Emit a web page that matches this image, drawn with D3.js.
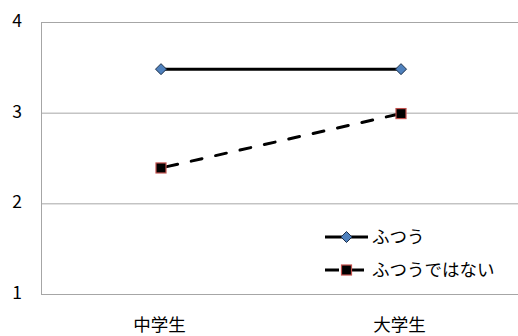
<!DOCTYPE html>
<html><head><meta charset="utf-8">
<script src="https://cdn.jsdelivr.net/npm/d3@7"></script>
<style>body{margin:0;background:#fff}svg{display:block}</style>
</head><body>
<script>
const categories = ["中学生", "大学生"];
const seriesNames = ["ふつう", "ふつうではない"];
const futsuu = [3.48, 3.48];
const futsuuDewanai = [2.39, 2.99];
const yTicks = [1, 2, 3, 4];

(function () {
const W = 518, H = 336;
const svg = d3.select("body").append("svg").attr("width", W).attr("height", H);
const pL = 41, pR = 521, pT = 22, pB = 294;
const x = d3.scalePoint().domain(categories).range([pL, pR]).padding(0.5);
const y = d3.scaleLinear().domain([1, 4]).range([pB, pT]);
const font = "'Noto Sans CJK JP', 'Noto Sans', sans-serif";

// gridlines
svg.append("g").selectAll("line").data(yTicks).join("line")
  .attr("x1", pL).attr("x2", W).attr("y1", d => y(d) + 0.5).attr("y2", d => y(d) + 0.5)
  .attr("stroke", "#a6a6a6").attr("stroke-width", 1);
svg.append("line").attr("x1", pL + 0.5).attr("x2", pL + 0.5).attr("y1", pT).attr("y2", pB + 1)
  .attr("stroke", "#a6a6a6");

// y labels
svg.append("g").selectAll("text").data(yTicks).join("text")
  .attr("x", 22).attr("y", d => y(d) - 1).attr("dy", "0.35em").attr("text-anchor", "end")
  .attr("font-family", font).attr("font-size", 17.5).attr("fill", "#000").text(d => d);

// x labels
svg.append("g").selectAll("text").data(categories).join("text")
  .attr("x", d => x(d) - 1.5).attr("y", 331).attr("text-anchor", "middle")
  .attr("font-family", font).attr("font-size", 17.5).attr("fill", "#000").text(d => d);

const line = d3.line().x(d => x(d.c)).y(d => y(d.v));
const s1 = categories.map((c, i) => ({c, v: futsuu[i]}));
const s2 = categories.map((c, i) => ({c, v: futsuuDewanai[i]}));

svg.append("path").attr("d", line(s1)).attr("fill", "none").attr("stroke", "#000").attr("stroke-width", 3);
svg.append("path").attr("d", line(s2)).attr("fill", "none").attr("stroke", "#000").attr("stroke-width", 3)
  .attr("stroke-dasharray", "11,14").attr("stroke-linecap", "round").attr("stroke-dashoffset", -6);

function diamond(g, cx, cy) {
  const r = 5.5;
  g.append("path").attr("d", `M${cx},${cy - r}L${cx + r},${cy}L${cx},${cy + r}L${cx - r},${cy}Z`)
    .attr("fill", "#4f81bd").attr("stroke", "#1c2f4a").attr("stroke-width", 1);
}
function square(g, cx, cy) {
  const s = 10;
  g.append("rect").attr("x", cx - s / 2).attr("y", cy - s / 2).attr("width", s).attr("height", s)
    .attr("fill", "#000").attr("stroke", "#c0504d").attr("stroke-width", 1.2);
}
s1.forEach(d => diamond(svg, x(d.c), y(d.v)));
s2.forEach(d => square(svg, x(d.c), y(d.v)));

// legend
const leg = svg.append("g");
const rows = [237, 270];
leg.append("line").attr("x1", 325).attr("x2", 368).attr("y1", rows[0]).attr("y2", rows[0]).attr("stroke", "#000").attr("stroke-width", 3);
diamond(leg, 346.5, rows[0]);
leg.append("line").attr("x1", 325).attr("x2", 365).attr("y1", rows[1]).attr("y2", rows[1]).attr("stroke", "#000").attr("stroke-width", 3)
  .attr("stroke-dasharray", "14,11");
square(leg, 346.5, rows[1]);
leg.selectAll("text").data(seriesNames).join("text")
  .attr("x", 372).attr("y", (d, i) => rows[i]).attr("dy", "0.35em")
  .attr("font-family", font).attr("font-size", 17.5).attr("fill", "#000").text(d => d);
})();
</script>
</body></html>
